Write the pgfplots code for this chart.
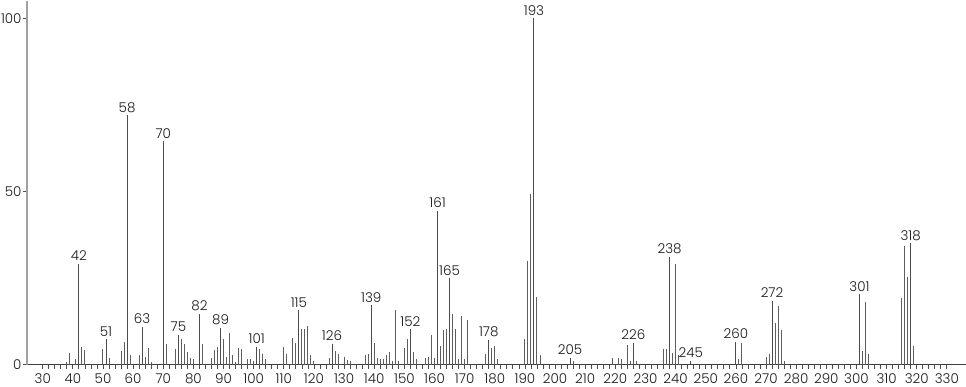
\documentclass[border=0pt]{standalone}
\usepackage{fontspec}
\setmainfont{Poppins}[UprightFont=* Light]
\usepackage{pgfplots}
\usepackage{pgfplotstable}
\pgfplotsset{compat=1.18}
\definecolor{barc}{HTML}{5E5E5E}
\definecolor{yax}{HTML}{A0A0A0}
\pgfplotstableread{
mz int
38 0.8
39 3.4
41 1.7
42 29.2
43 5.1
44 4.1
50 4.6
51 7.4
52 2.0
56 4.0
57 6.6
58 72.0
59 2.9
62 2.9
63 11.0
64 2.2
65 4.9
66 0.9
70 64.5
71 6.1
74 4.6
75 8.7
76 7.5
77 6.1
78 3.8
79 2.0
80 1.5
82 14.7
83 6.1
86 2.0
87 4.1
88 5.2
89 10.7
90 7.4
91 2.2
92 9.2
93 2.9
94 0.9
95 4.9
96 4.6
98 1.7
99 1.7
100 1.1
101 5.1
102 4.6
103 3.2
104 1.7
110 5.2
111 3.2
113 7.7
114 6.4
115 15.7
116 10.2
117 10.4
118 11.1
119 2.7
120 1.1
125 2.0
126 6.1
127 4.0
128 3.0
130 2.3
131 1.3
132 1.2
137 2.9
138 3.2
139 17.1
140 6.2
141 1.9
142 1.5
143 1.5
144 2.8
145 3.8
146 1.2
147 15.8
148 1.2
150 4.8
151 7.3
152 10.2
153 3.8
154 1.6
157 1.9
158 2.3
159 8.5
160 1.9
161 44.4
162 5.4
163 9.9
164 10.3
165 24.9
166 14.5
167 10.3
168 1.7
169 14.1
170 1.5
171 13.0
177 3.1
178 7.2
179 4.9
180 5.4
181 1.7
190 7.4
191 30.0
192 49.4
193 100
194 19.6
195 2.9
205 2.0
206 1.2
219 1.8
221 1.8
222 1.6
224 5.7
225 1.0
226 6.4
227 1.0
236 4.6
237 4.6
238 31.1
239 3.4
240 29.0
241 2.9
245 1.1
260 6.6
261 1.6
262 6.2
270 2.3
271 3.2
272 18.4
273 11.9
274 16.8
275 10.0
276 1.2
301 20.3
302 4.0
303 18.0
304 3.1
315 19.2
316 34.2
317 25.3
318 35.0
319 5.3
}\spectrum
\pgfplotstableread{
mz int
42 29.2
51 7.4
58 72.0
63 11.0
70 64.5
75 8.7
82 14.7
89 10.7
101 5.1
115 15.7
126 6.1
139 17.1
152 10.2
161 44.4
165 24.9
178 7.2
193 100
205 2.0
226 6.4
238 31.1
245 1.1
260 6.6
272 18.4
301 20.3
318 35.0
}\labeled
\begin{document}
\begin{tikzpicture}
\begin{axis}[
  scale only axis,
  width=937bp, height=363bp,
  xmin=24.7, xmax=336.2, ymin=0, ymax=105,
  axis lines=left,
  x axis line style={-, draw=black!75, line width=0.9bp},
  y axis line style={-, draw=yax, line width=2bp},
  xtick={30,40,...,330},
  minor x tick num=4,
  ytick={0,50,100},
  tick align=outside,
  major tick length=4bp,
  minor tick length=4bp,
  tick style={draw=black!70, line width=0.8bp},
  every tick label/.append style={font=\fontsize{13.5}{15}\selectfont, text=black!90},
  /pgf/number format/assume math mode=true,
  xticklabel style={inner sep=2.5bp, yshift=-2bp},
  yticklabel style={inner sep=1bp},
  clip=false,
]
\addplot[ycomb, draw=barc, line width=1bp] table[x=mz, y=int] {\spectrum};
\addplot[ycomb, draw=black!70, line width=1bp,
  point meta=x, nodes near coords,
  nodes near coords style={font=\fontsize{13.5}{15}\selectfont, text=black!90, anchor=south, inner sep=1bp, yshift=1.5bp}]
  table[x=mz, y=int] {\labeled};
\end{axis}
\end{tikzpicture}
\end{document}
